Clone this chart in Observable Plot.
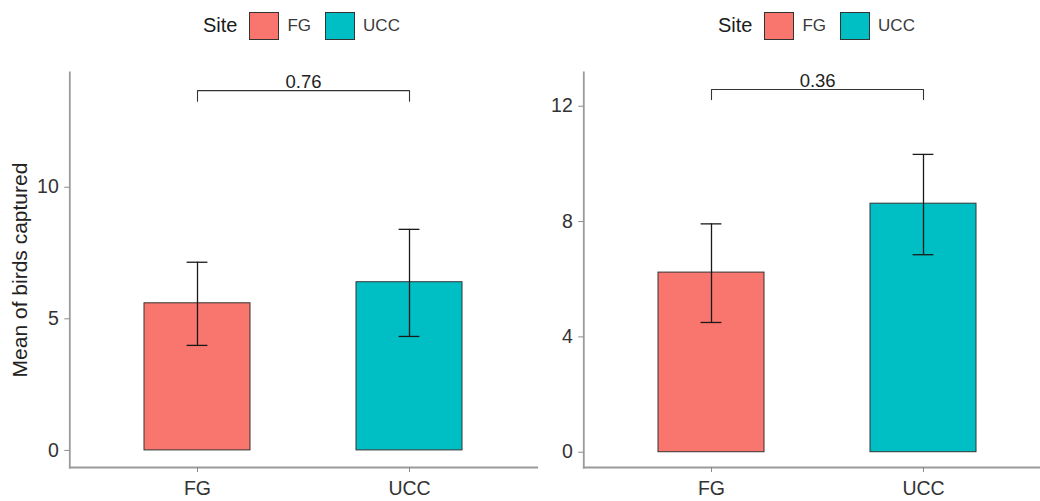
<!DOCTYPE html>
<html><head><meta charset="utf-8">
<script src="https://cdn.jsdelivr.net/npm/d3@7"></script>
<script src="https://cdn.jsdelivr.net/npm/@observablehq/plot@0.6"></script>
<style>
html,body{margin:0;padding:0;background:#fff;}
#wrap{position:relative;width:1040px;height:501px;overflow:hidden;font-family:"Liberation Sans",Arial,sans-serif;}
.panel{position:absolute;top:0;height:501px;overflow:hidden;}
.legend{position:absolute;top:12px;height:27px;display:flex;align-items:center;white-space:nowrap;}
.legend .title{font-size:20px;color:#1a1a1a;margin-right:12px;}
.legend .sw{width:28px;height:26px;border:1px solid #333;box-sizing:content-box;}
.legend .lab{font-size:17px;color:#3a3a3a;margin-left:8px;margin-right:14px;}
.plotbox{position:absolute;top:50px;left:0;}
.plotbox svg{max-width:none !important;}
</style>
</head><body>
<div id="wrap"></div>
<script>
// ---- data ----
const sites = ["FG", "UCC"];
const siteColors = ["#F8766D", "#00BFC4"];
const legendTitle = "Site";
const yLabel = "Mean of birds captured";

// left panel
const leftMean  = [5.59, 6.39];
const leftLower = [3.99, 4.33];
const leftUpper = [7.15, 8.40];
const leftP = "0.76";
const leftBracket = 13.67;
const leftBracketTip = 13.27;
const leftTicks = [0, 5, 10];
const leftDomain = [-0.65, 14.36];

// right panel
const rightMean  = [6.23, 8.62];
const rightLower = [4.50, 6.85];
const rightUpper = [7.92, 10.33];
const rightP = "0.36";
const rightBracket = 12.58;
const rightBracketTip = 12.23;
const rightTicks = [0, 4, 8, 12];
const rightDomain = [-0.53, 13.17];

const FONT = '"Liberation Sans", Arial, sans-serif';

function makeLegend(left) {
  const lg = document.createElement("div");
  lg.className = "legend";
  lg.style.left = left + "px";
  const t = document.createElement("span");
  t.className = "title"; t.textContent = legendTitle;
  lg.appendChild(t);
  sites.forEach((s, i) => {
    const sw = document.createElement("span");
    sw.className = "sw"; sw.style.background = siteColors[i];
    lg.appendChild(sw);
    const l = document.createElement("span");
    l.className = "lab"; l.textContent = s;
    lg.appendChild(l);
  });
  return lg;
}

function makePlot(cfg) {
  const data = sites.map((s, i) => ({site: s, mean: cfg.mean[i], lo: cfg.lower[i], hi: cfg.upper[i]}));
  const bracket = [
    {site: sites[0], y: cfg.tip},
    {site: sites[0], y: cfg.br},
    {site: sites[1], y: cfg.br},
    {site: sites[1], y: cfg.tip}
  ];
  const marks = [
    Plot.barY(data, {x: "site", y: "mean", fill: "site", stroke: "#333", strokeWidth: 1}),
    Plot.ruleX(data, {x: "site", y1: "lo", y2: "hi", stroke: "#1a1a1a", strokeWidth: 1.3}),
    Plot.tickY(data, {x: "site", y: "lo", stroke: "#1a1a1a", strokeWidth: 1.3, insetLeft: 42.6, insetRight: 42.6}),
    Plot.tickY(data, {x: "site", y: "hi", stroke: "#1a1a1a", strokeWidth: 1.3, insetLeft: 42.6, insetRight: 42.6}),
    Plot.line(bracket, {x: "site", y: "y", stroke: "#333", strokeWidth: 1.1}),
    Plot.text([{label: cfg.p, y: cfg.br}], {y: "y", text: "label", lineAnchor: "bottom", dy: -3, fontSize: 18.5, fill: "#222"}),
    Plot.frame({anchor: "left", stroke: "#9a9a9a", strokeWidth: 1.8}),
    Plot.frame({anchor: "bottom", stroke: "#9a9a9a", strokeWidth: 1.8}),
    Plot.axisY(cfg.ticks, {tickSize: 5, tickPadding: 6, fontSize: 19.5, stroke: "#8a8a8a", fill: "#333", label: null}),
    Plot.axisX(sites, {tickSize: 5, tickPadding: 9, fontSize: 19.5, stroke: "#8a8a8a", fill: "#333", label: null})
  ];
  if (cfg.label) {
    marks.push(Plot.text([cfg.label], {frameAnchor: "left", textAnchor: "middle", rotate: -90, dx: -50, fontSize: 21, fill: "#222"}));
  }
  return Plot.plot({
    width: cfg.width, height: 451,
    marginLeft: cfg.marginLeft, marginRight: cfg.marginRight, marginTop: 22, marginBottom: 34,
    style: {fontFamily: FONT, background: "transparent", overflow: "visible", maxWidth: "none"},
    x: {domain: sites, paddingInner: 0.5, paddingOuter: 0.35, axis: null},
    y: {domain: cfg.domain, axis: null},
    color: {domain: sites, range: siteColors},
    marks
  });
}

const wrap = document.getElementById("wrap");

function addPanel(left, width, legendLeft, cfg) {
  const p = document.createElement("div");
  p.className = "panel";
  p.style.left = left + "px";
  p.style.width = width + "px";
  p.appendChild(makeLegend(legendLeft));
  const box = document.createElement("div");
  box.className = "plotbox";
  box.style.width = cfg.width + "px";
  box.appendChild(makePlot(cfg));
  p.appendChild(box);
  wrap.appendChild(p);
}

addPanel(0, 540, 203, {
  mean: leftMean, lower: leftLower, upper: leftUpper, p: leftP, br: leftBracket, tip: leftBracketTip,
  ticks: leftTicks, domain: leftDomain, width: 540, marginLeft: 69.3, marginRight: 3.3, label: yLabel
});
addPanel(520, 520, 198, {
  mean: rightMean, lower: rightLower, upper: rightUpper, p: rightP, br: rightBracket, tip: rightBracketTip,
  ticks: rightTicks, domain: rightDomain, width: 531, marginLeft: 63.3, marginRight: 0, label: null
});
</script>
</body></html>
